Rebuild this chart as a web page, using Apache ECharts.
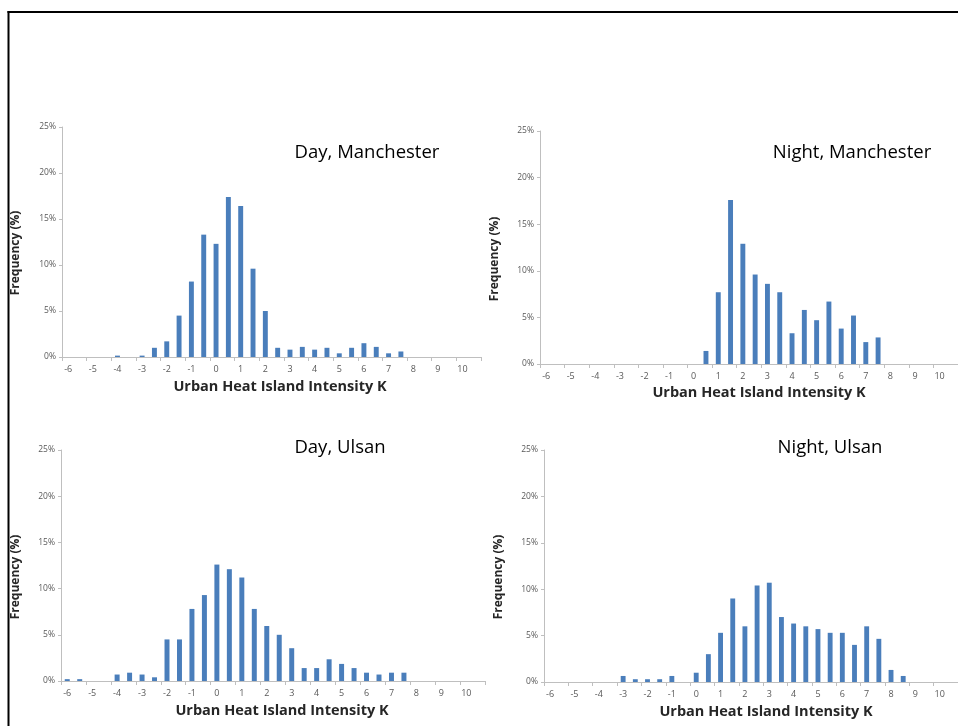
<!DOCTYPE html>
<html>
<head>
<meta charset="utf-8">
<script src="https://cdn.jsdelivr.net/npm/echarts@6/dist/echarts.min.js"></script>
<style>html,body{margin:0;padding:0;background:#fff;overflow:hidden;}#chart{width:958px;height:726px;}</style>
</head>
<body>
<div id="chart"></div>
<script>
// Categories: UHI intensity bins from -6 to 10.5 K, step 0.5
const categories = ["-6","-5.5","-5","-4.5","-4","-3.5","-3","-2.5","-2","-1.5","-1","-0.5","0","0.5","1","1.5","2","2.5","3","3.5","4","4.5","5","5.5","6","6.5","7","7.5","8","8.5","9","9.5","10","10.5"];

// Frequencies (%) per bin
const dayManchester = [0,0,0,0,0.15,0,0.15,1.0,1.7,4.5,8.2,13.3,12.3,17.4,16.4,9.6,5.0,1.0,0.8,1.1,0.8,1.0,0.4,1.0,1.5,1.1,0.4,0.6,0,0,0,0,0,0];
const nightManchester = [0,0,0,0,0,0,0,0,0,0,0,0,0,1.4,7.7,17.6,12.9,9.6,8.6,7.7,3.3,5.8,4.7,6.7,3.8,5.2,2.35,2.85,0,0,0,0,0,0];
const dayUlsan = [0.2,0.2,0,0,0.7,0.9,0.7,0.4,4.5,4.5,7.8,9.3,12.6,12.1,11.2,7.8,5.95,5.0,3.55,1.4,1.4,2.35,1.85,1.4,0.9,0.7,0.9,0.9,0,0,0,0,0,0];
const nightUlsan = [0,0,0,0,0,0,0.65,0.3,0.3,0.3,0.65,0,1.0,3.0,5.3,9.0,6.0,10.4,10.7,7.0,6.3,6.0,5.7,5.3,5.3,4.0,6.0,4.65,1.3,0.65,0,0,0,0];

const panelTitles = ["Day, Manchester","Night, Manchester","Day, Ulsan","Night, Ulsan"];
const xAxisTitle = "Urban Heat Island Intensity K";
const yAxisTitle = "Frequency (%)";
const yMin = 0, yMax = 25, yStep = 5;

const seriesData = [dayManchester, nightManchester, dayUlsan, nightUlsan];

const grids = [
  {left: 62, top: 127, width: 419, height: 230},
  {left: 540, top: 131, width: 425, height: 233},
  {left: 61, top: 450, width: 424, height: 231},
  {left: 544, top: 450, width: 425, height: 232}
];
const titlePos = [[367, 153],[852, 153],[340, 448],[830, 448]];
const xTitlePos = [[280, 387],[759, 393],[282, 711],[766, 712]];
const yTitlePos = [[16, 253],[495, 259],[16, 577],[499, 577]];

const axisColor = '#bfbfbf';
const labelColor = '#595959';
const fontFam = "'Open Sans', 'Liberation Sans', sans-serif";

const chart = echarts.init(document.getElementById('chart'), null, {renderer: 'canvas'});

const xAxes = grids.map((g, i) => ({
  type: 'category', gridIndex: i, data: categories, boundaryGap: true,
  axisLine: {show: true, lineStyle: {color: axisColor, width: 1}},
  axisTick: {show: true, interval: 1, length: 4, lineStyle: {color: axisColor}},
  axisLabel: {interval: 1, fontSize: 9, color: labelColor, fontFamily: fontFam, margin: 8},
  splitLine: {show: false}
}));
const yAxes = grids.map((g, i) => ({
  type: 'value', gridIndex: i, min: yMin, max: yMax, interval: yStep,
  axisLine: {show: true, lineStyle: {color: axisColor, width: 1}},
  axisTick: {show: true, length: 3, lineStyle: {color: axisColor}},
  axisLabel: {formatter: '{value}%', fontSize: 8.5, color: labelColor, fontFamily: fontFam, margin: 6},
  splitLine: {show: false}
}));
const series = seriesData.map((d, i) => ({
  type: 'bar', xAxisIndex: i, yAxisIndex: i, data: d, barWidth: '40%',
  itemStyle: {color: '#4a7ebb'}, silent: true, animation: false
}));

const graphic = [
  {type: 'line', shape: {x1: 8.5, y1: 11, x2: 8.5, y2: 730}, style: {stroke: '#000', lineWidth: 2}, silent: true},
  {type: 'line', shape: {x1: 7.5, y1: 12, x2: 958, y2: 12}, style: {stroke: '#000', lineWidth: 2}, silent: true}
];
panelTitles.forEach((t, i) => {
  graphic.push({type: 'text', x: titlePos[i][0], y: titlePos[i][1], style: {text: t, font: "18.5px " + fontFam, fill: '#000', textAlign: 'center', textVerticalAlign: 'middle'}});
  graphic.push({type: 'text', x: xTitlePos[i][0], y: xTitlePos[i][1], style: {text: xAxisTitle, font: "bold 14.5px " + fontFam, fill: '#262626', textAlign: 'center', textVerticalAlign: 'middle'}});
  graphic.push({type: 'text', x: yTitlePos[i][0], y: yTitlePos[i][1], rotation: Math.PI / 2, style: {text: yAxisTitle, font: "bold 12px " + fontFam, fill: '#262626', textAlign: 'center', textVerticalAlign: 'middle'}});
});

chart.setOption({
  animation: false,
  grid: grids,
  xAxis: xAxes,
  yAxis: yAxes,
  series: series,
  graphic: graphic
});
</script>
</body>
</html>
